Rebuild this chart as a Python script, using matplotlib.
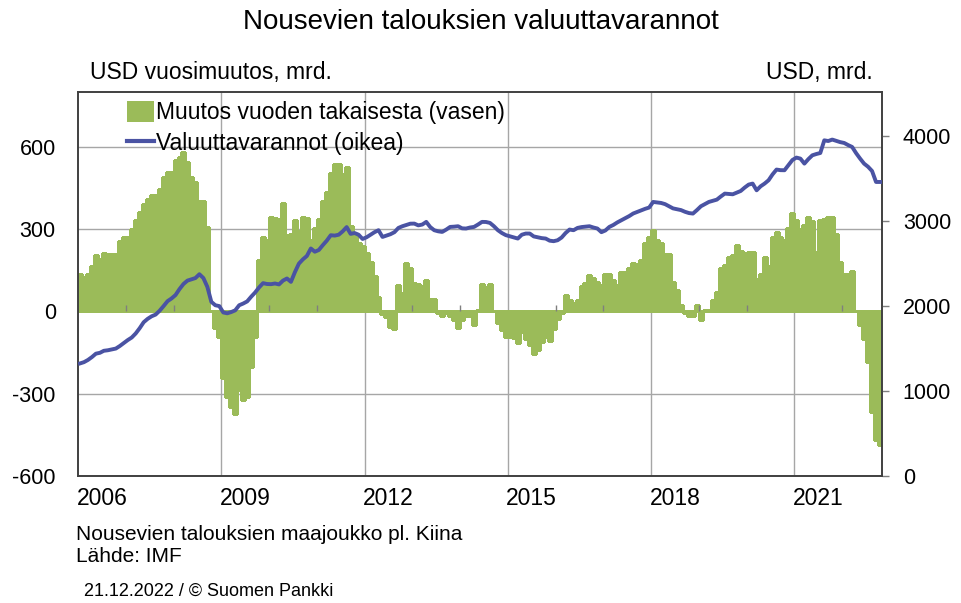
# Emerging market FX reserves (excl. China), monthly 2006-2022

import numpy as np
import matplotlib
matplotlib.use('Agg')
import matplotlib.pyplot as plt
from matplotlib.patches import Patch
from matplotlib.lines import Line2D

# year-on-year change, USD bn (left axis), monthly from Jan 2006
yoy_change = [
    137, 127, 137, 165, 206, 192, 214, 210, 210, 208, 255, 271,
    271, 300, 332, 362, 390, 410, 426, 426, 447, 490, 510, 510,
    553, 562, 580, 544, 490, 471, 404, 404, 307, 0, -61, -94,
    -242, -312, -349, -375, -288, -322, -312, -203, -94, 188, 273, 259,
    344, 341, 338, 395, 277, 281, 334, 295, 346, 341, 261, 305,
    338, 402, 437, 504, 538, 538, 502, 526, 313, 281, 249, 240,
    213, 180, 129, 52, -11, -20, -57, -63, 98, 67, 175, 160,
    105, 100, 92, 115, 45, 46, -5, -15, -5, -15, -30, -62,
    -30, -15, -15, -48, 5, 101, 88, 101, 3, -41, -67, -94,
    -92, -96, -114, -75, -100, -124, -154, -142, -112, -94, -106, -63,
    -27, -6, 61, 43, 30, 43, 92, 103, 134, 121, 109, 95,
    135, 135, 113, 98, 143, 143, 159, 176, 174, 186, 250, 273,
    298, 259, 249, 210, 210, 107, 79, 22, -6, -15, -15, 22,
    -30, 6, 4, 43, 70, 159, 170, 198, 204, 243, 219, 213,
    216, 216, 119, 137, 198, 165, 273, 289, 273, 262, 304, 360,
    334, 301, 316, 344, 329, 216, 334, 338, 344, 344, 283, 180,
    137, 137, 149, 0, -51, -100, -185, -367, -470, -487,
]

# reserve level, USD bn (right axis)
reserves = [
    1325, 1340, 1366, 1400, 1440, 1450, 1474, 1480, 1490, 1500, 1530, 1565,
    1600, 1630, 1678, 1740, 1810, 1850, 1880, 1900, 1945, 2000, 2058, 2090,
    2130, 2200, 2260, 2300, 2315, 2330, 2375, 2330, 2226, 2050, 2010, 2000,
    1925, 1915, 1930, 1950, 2010, 2030, 2055, 2110, 2160, 2220, 2270, 2260,
    2258, 2266, 2255, 2300, 2325, 2285, 2400, 2500, 2550, 2590, 2678, 2640,
    2660, 2717, 2770, 2834, 2830, 2840, 2880, 2930, 2850, 2860, 2840, 2790,
    2810, 2840, 2870, 2893, 2814, 2830, 2846, 2870, 2920, 2940, 2955, 2970,
    2971, 2950, 2960, 2991, 2930, 2893, 2880, 2873, 2900, 2932, 2935, 2940,
    2915, 2913, 2925, 2932, 2960, 2991, 2990, 2979, 2940, 2893, 2860, 2835,
    2822, 2810, 2795, 2840, 2854, 2854, 2820, 2810, 2800, 2795, 2770, 2764,
    2775, 2807, 2860, 2901, 2893, 2920, 2930, 2935, 2940, 2925, 2913, 2870,
    2890, 2932, 2955, 2985, 3010, 3035, 3060, 3090, 3108, 3125, 3145, 3160,
    3226, 3220, 3214, 3200, 3175, 3150, 3140, 3130, 3110, 3095, 3089, 3130,
    3175, 3200, 3226, 3240, 3253, 3290, 3324, 3320, 3316, 3335, 3355, 3395,
    3430, 3442, 3363, 3410, 3442, 3481, 3550, 3607, 3600, 3599, 3660, 3720,
    3748, 3736, 3677, 3730, 3775, 3790, 3802, 3951, 3943, 3960, 3945, 3930,
    3920, 3895, 3873, 3800, 3736, 3677, 3640, 3590, 3461, 3461,
]

start_year = 2006
label_years = [2006, 2009, 2012, 2015, 2018, 2021]
left_ticks = [-600, -300, 0, 300, 600]
right_ticks = [0, 1000, 2000, 3000, 4000]

green = '#9BBB59'
blue = '#4A53A3'
grid_col = '#A6A6A6'

plt.rcParams['font.family'] = ['Liberation Sans', 'DejaVu Sans']

n = len(yoy_change)
x = start_year + (np.arange(n) + 0.5) / 12
x_end = start_year + n / 12

fig = plt.figure(figsize=(9.61, 6.03), dpi=100)
ax = fig.add_axes([78 / 961, 1 - 476 / 603, 804 / 961, 384 / 603])
ax2 = ax.twinx()

# bars touch each other; no antialiasing so no white seams appear
ax.bar(x, yoy_change, width=1 / 12, color=green, edgecolor=green,
       linewidth=1.0, antialiased=False, zorder=2)
ax2.plot(x, reserves, color=blue, linewidth=2.8, solid_joinstyle='round',
         zorder=3)

ax.set_xlim(start_year, x_end)
ax.set_ylim(-600, 800)
ax2.set_ylim(0, 4520)

# horizontal grid from left axis, vertical grid every third year
ax.set_yticks(left_ticks)
ax.set_yticklabels([str(v) for v in left_ticks], fontsize=15.5)
for v in left_ticks:
    ax.axhline(v, color=grid_col, linewidth=1.0, zorder=1)
for yr in label_years[1:]:
    ax.axvline(yr, color=grid_col, linewidth=1.0, zorder=1)
ax.tick_params(axis='y', length=0, pad=16)

# small year ticks sitting on the zero line
zero_frac = (0 - (-600)) / 1400
minor_years = [y for y in range(start_year + 1, 2023) if y not in label_years]
ax.vlines(minor_years, zero_frac, zero_frac + 0.016, color='#7F7F7F',
          linewidth=1.0, transform=ax.get_xaxis_transform(), zorder=4)

ax.set_xticks([y + 0.5 for y in label_years])
ax.set_xticklabels([str(y) for y in label_years], fontsize=16.5)
ax.tick_params(axis='x', length=0, pad=8)

ax2.set_yticks(right_ticks)
ax2.set_yticklabels([str(v) for v in right_ticks], fontsize=15.5)
ax2.tick_params(axis='y', length=5, width=1, color='#7F7F7F', pad=10)

for a in (ax, ax2):
    for s in a.spines.values():
        s.set_color('#404040')
        s.set_linewidth(1.2)

ax.set_zorder(ax2.get_zorder() - 1)
ax.patch.set_visible(True)
ax2.patch.set_visible(False)

handles = [Patch(facecolor=green, edgecolor='none'),
           Line2D([0], [0], color=blue, linewidth=3.0)]
labels = ['Muutos vuoden takaisesta (vasen)', 'Valuuttavarannot (oikea)']
leg = ax2.legend(handles, labels, loc='upper left', bbox_to_anchor=(0.049, 1.0),
                 frameon=False, fontsize=16.5, handlelength=1.2,
                 handleheight=1.0, handletextpad=0.1, labelspacing=0.35,
                 borderaxespad=0)

fig.text(0.5, 1 - 22 / 603, 'Nousevien talouksien valuuttavarannot',
         ha='center', va='center', fontsize=20)
fig.text(90 / 961, 1 - 72 / 603, 'USD vuosimuutos, mrd.', ha='left',
         va='center', fontsize=16.5)
fig.text(873 / 961, 1 - 72 / 603, 'USD, mrd.', ha='right', va='center',
         fontsize=16.5)
fig.text(76 / 961, 1 - 535 / 603, 'Nousevien talouksien maajoukko pl. Kiina',
         ha='left', va='center', fontsize=15)
fig.text(76 / 961, 1 - 557 / 603, 'Lähde: IMF', ha='left', va='center',
         fontsize=15)
fig.text(84 / 961, 1 - 591 / 603, '21.12.2022 / © Suomen Pankki', ha='left',
         va='center', fontsize=13)

fig.savefig('out.png', dpi=100)
